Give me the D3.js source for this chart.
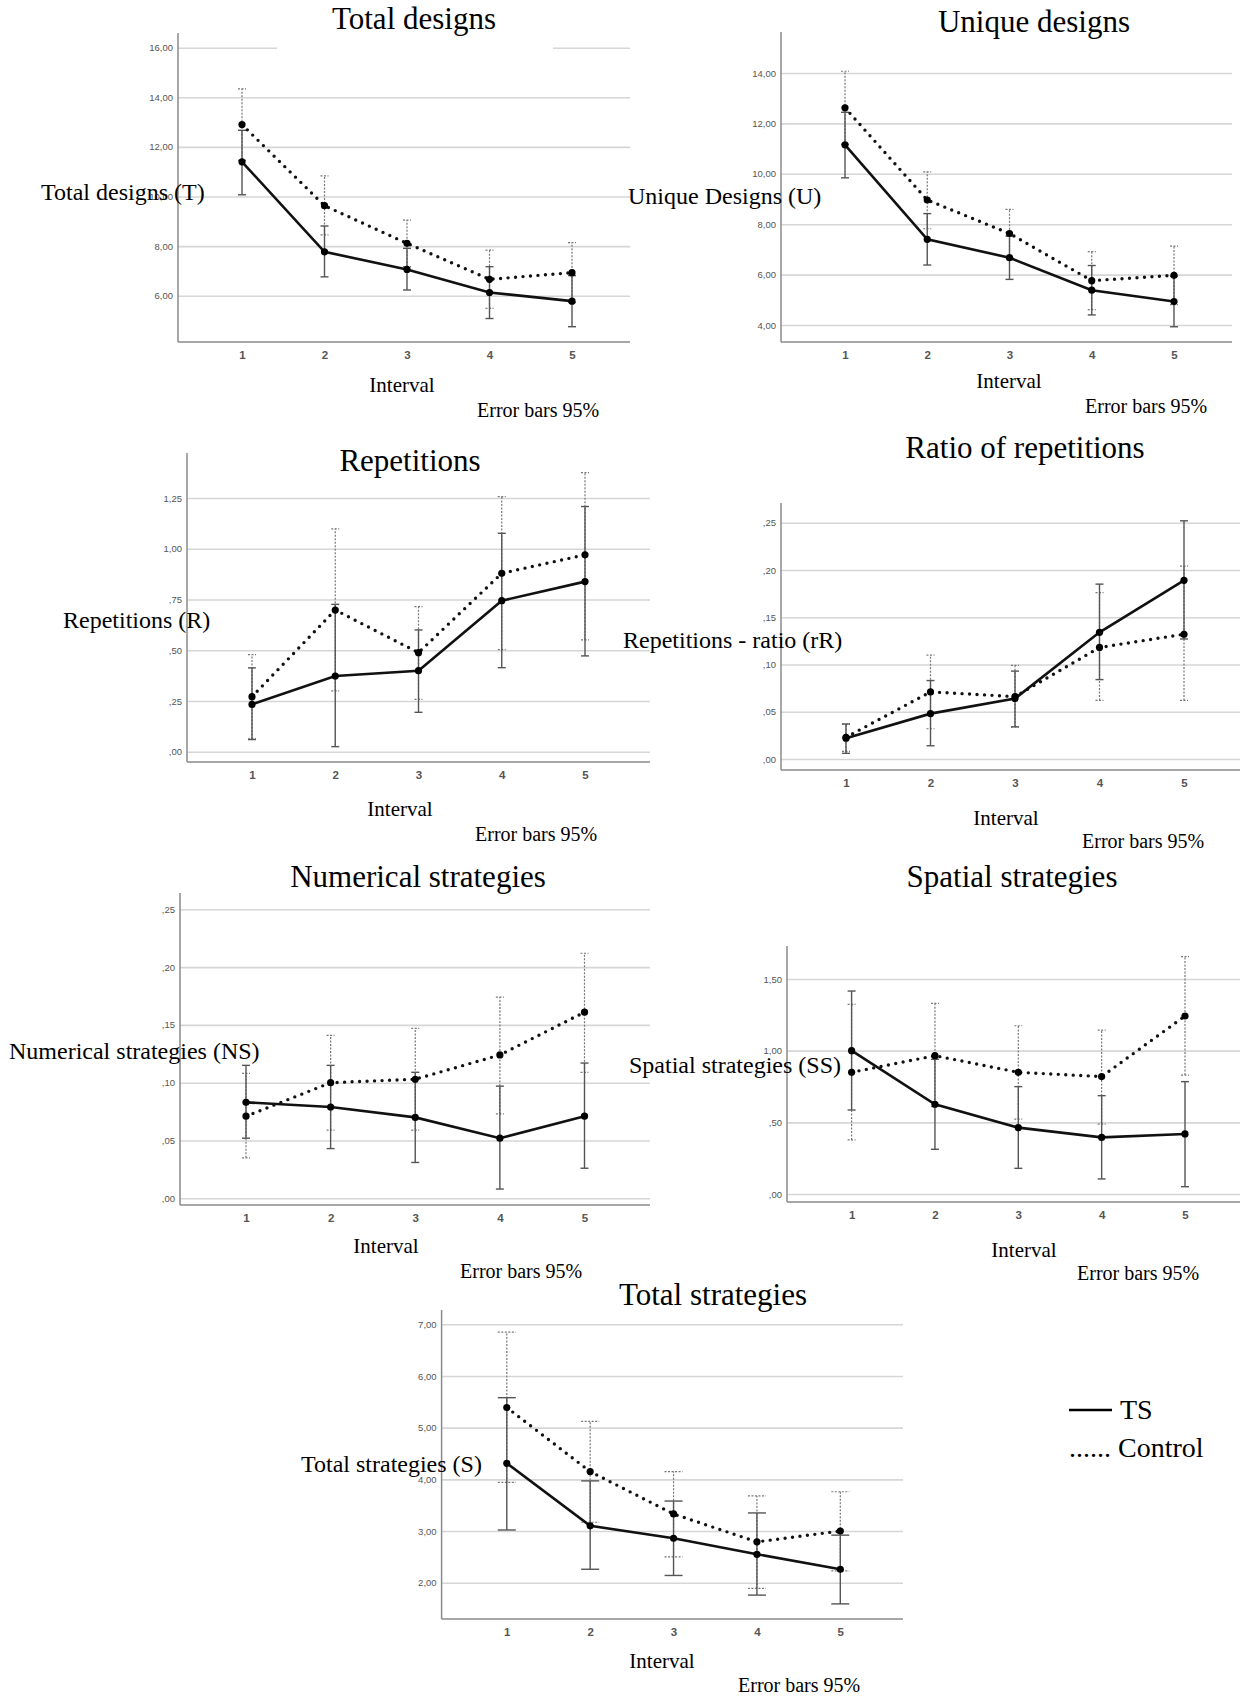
<!DOCTYPE html>
<html>
<head>
<meta charset="utf-8">
<title>Design measures by interval</title>
<script src="https://cdnjs.cloudflare.com/ajax/libs/d3/7.8.5/d3.min.js"></script>
<style>
  body { margin: 0; background: #fff; }
  svg { display: block; }
  .title, .ylab, .xlab, .note, .legend { font-family: "Liberation Serif", "Times New Roman", serif; fill: #000; }
  .title { font-size: 31px; }
  .ylab { font-size: 24px; }
  .xlab { font-size: 21px; }
  .note { font-size: 20px; }
  .legend { font-size: 28px; }
  .tick-y { font-family: "Liberation Sans", Arial, sans-serif; font-size: 9.5px; fill: #555; }
  .tick-x { font-family: "Liberation Sans", Arial, sans-serif; font-size: 11.5px; font-weight: bold; fill: #555; }
  .grid { stroke: #d6d6d6; stroke-width: 1.6; }
  .axis { stroke: #8a8a8a; stroke-width: 1.5; }
  .ts { fill: none; stroke: #111; stroke-width: 2.6; }
  .ctrl { fill: none; stroke: #111; stroke-width: 3.4; stroke-dasharray: 0 7.5; stroke-linecap: round; }
  .err-ts { stroke: #555; stroke-width: 1.4; }
  .err-ctrl { stroke: #777; stroke-width: 1.2; stroke-dasharray: 2 1.5; }
</style>
</head>
<body>
<script>
var intervals = [1, 2, 3, 4, 5];

// Total designs
var totalTS = [11.40, 7.77, 7.06, 6.13, 5.78];
var totalTSci = [[10.07, 12.67], [6.76, 8.81], [6.23, 7.91], [5.08, 7.17], [4.75, 6.81]];
var totalCtrl = [12.90, 9.63, 8.11, 6.66, 6.93];
var totalCtrlci = [[11.46, 14.34], [8.45, 10.83], [7.17, 9.05], [5.49, 7.84], [5.72, 8.14]];

// Unique designs
var uniqueTS = [11.15, 7.40, 6.67, 5.38, 4.93];
var uniqueTSci = [[9.84, 12.44], [6.38, 8.42], [5.81, 7.53], [4.40, 6.36], [3.93, 5.93]];
var uniqueCtrl = [12.62, 8.96, 7.63, 5.76, 5.97];
var uniqueCtrlci = [[11.17, 14.07], [7.82, 10.08], [6.67, 8.59], [4.61, 6.91], [4.81, 7.13]];

// Repetitions
var repTS = [0.233, 0.373, 0.399, 0.744, 0.838];
var repTSci = [[0.060, 0.413], [0.025, 0.726], [0.194, 0.600], [0.414, 1.076], [0.472, 1.208]];
var repCtrl = [0.271, 0.698, 0.488, 0.879, 0.970];
var repCtrlci = [[0.063, 0.478], [0.300, 1.098], [0.258, 0.715], [0.503, 1.257], [0.551, 1.375]];

// Ratio of repetitions
var ratioTS = [0.022, 0.048, 0.064, 0.134, 0.189];
var ratioTSci = [[0.006, 0.037], [0.014, 0.083], [0.034, 0.093], [0.084, 0.185], [0.127, 0.252]];
var ratioCtrl = [0.023, 0.071, 0.066, 0.118, 0.132];
var ratioCtrlci = [[0.008, 0.037], [0.032, 0.110], [0.034, 0.099], [0.062, 0.176], [0.062, 0.204]];

// Numerical strategies
var numTS = [0.083, 0.079, 0.070, 0.052, 0.071];
var numTSci = [[0.052, 0.115], [0.043, 0.115], [0.031, 0.109], [0.008, 0.097], [0.026, 0.117]];
var numCtrl = [0.071, 0.100, 0.103, 0.124, 0.161];
var numCtrlci = [[0.035, 0.108], [0.059, 0.141], [0.059, 0.147], [0.073, 0.174], [0.109, 0.212]];

// Spatial strategies
var spatTS = [1.00, 0.626, 0.463, 0.395, 0.419];
var spatTSci = [[0.586, 1.416], [0.312, 0.940], [0.179, 0.749], [0.105, 0.686], [0.051, 0.784]];
var spatCtrl = [0.849, 0.965, 0.849, 0.819, 1.242];
var spatCtrlci = [[0.377, 1.323], [0.609, 1.330], [0.523, 1.174], [0.488, 1.144], [0.830, 1.656]];

// Total strategies
var stratTS = [4.31, 3.10, 2.86, 2.55, 2.26];
var stratTSci = [[3.02, 5.58], [2.26, 3.97], [2.14, 3.58], [1.76, 3.35], [1.59, 2.92]];
var stratCtrl = [5.39, 4.15, 3.33, 2.79, 3.00];
var stratCtrlci = [[3.94, 6.85], [3.17, 5.12], [2.50, 4.15], [1.89, 3.68], [2.23, 3.76]];

var panels = [
  { title: "Total designs", ylab: "Total designs (T)", ticks: [6, 8, 10, 12, 14, 16],
    ts: totalTS, tsCI: totalTSci, ctrl: totalCtrl, ctrlCI: totalCtrlci,
    left: 178, right: 630, top: 33, bottom: 342, gy: [295.7, 47.7], pts: [242, 572],
    titleAt: [414, 29], ylabAt: [41, 200], xlabAt: [402, 392], noteAt: [477, 417], cap: 4,
    mask: [277, 553] },
  { title: "Unique designs", ylab: "Unique Designs (U)", ticks: [4, 6, 8, 10, 12, 14],
    ts: uniqueTS, tsCI: uniqueTSci, ctrl: uniqueCtrl, ctrlCI: uniqueCtrlci,
    left: 781, right: 1232, top: 32, bottom: 342, gy: [325, 73], pts: [845, 1174],
    titleAt: [1034, 32], ylabAt: [628, 204], xlabAt: [1009, 388], noteAt: [1085, 413], cap: 4 },
  { title: "Repetitions", ylab: "Repetitions (R)", ticks: [0, 0.25, 0.5, 0.75, 1, 1.25],
    ts: repTS, tsCI: repTSci, ctrl: repCtrl, ctrlCI: repCtrlci,
    left: 187, right: 650, top: 453, bottom: 762, gy: [751.7, 498], pts: [252, 585],
    titleAt: [410, 471], ylabAt: [63, 628], xlabAt: [400, 816], noteAt: [475, 841], cap: 4 },
  { title: "Ratio of repetitions", ylab: "Repetitions - ratio (rR)", ticks: [0, 0.05, 0.1, 0.15, 0.2, 0.25],
    ts: ratioTS, tsCI: ratioTSci, ctrl: ratioCtrl, ctrlCI: ratioCtrlci,
    left: 781, right: 1240, top: 503, bottom: 770, gy: [759, 522.7], pts: [846, 1184],
    titleAt: [1025, 458], ylabAt: [623, 648], xlabAt: [1006, 825], noteAt: [1082, 848], cap: 4 },
  { title: "Numerical strategies", ylab: "Numerical strategies (NS)", ticks: [0, 0.05, 0.1, 0.15, 0.2, 0.25],
    ts: numTS, tsCI: numTSci, ctrl: numCtrl, ctrlCI: numCtrlci,
    left: 180, right: 650, top: 893, bottom: 1205, gy: [1198.3, 909.3], pts: [246, 584.5],
    titleAt: [418, 887], ylabAt: [9, 1059], xlabAt: [386, 1253], noteAt: [460, 1278], cap: 4 },
  { title: "Spatial strategies", ylab: "Spatial strategies (SS)", ticks: [0, 0.5, 1, 1.5],
    ts: spatTS, tsCI: spatTSci, ctrl: spatCtrl, ctrlCI: spatCtrlci,
    left: 787, right: 1240, top: 946, bottom: 1202, gy: [1194, 979], pts: [851.6, 1185],
    titleAt: [1012, 887], ylabAt: [629, 1073], xlabAt: [1024, 1257], noteAt: [1077, 1280], cap: 4 },
  { title: "Total strategies", ylab: "Total strategies (S)", ticks: [2, 3, 4, 5, 6, 7],
    ts: stratTS, tsCI: stratTSci, ctrl: stratCtrl, ctrlCI: stratCtrlci,
    left: 441.6, right: 903, top: 1310, bottom: 1619, gy: [1582.7, 1324.3], pts: [506.8, 840.3],
    titleAt: [713, 1305], ylabAt: [301, 1472], xlabAt: [662, 1668], noteAt: [738, 1692], cap: 9 }
];

var svg = d3.select("body").append("svg")
  .attr("width", 1244)
  .attr("height", 1698);

// SPSS style: 2 decimals, comma, no leading zero
function fmt(d) {
  var s = d.toFixed(2).replace(".", ",");
  return s.indexOf("0,") === 0 ? s.slice(1) : s;
}

function errorBars(g, x, y, values, ci, cls, cap) {
  var eb = g.append("g");
  eb.selectAll("line.v").data(ci).enter().append("line")
    .attr("class", cls)
    .attr("x1", function(d, i) { return x(intervals[i]); })
    .attr("x2", function(d, i) { return x(intervals[i]); })
    .attr("y1", function(d) { return y(d[0]); })
    .attr("y2", function(d) { return y(d[1]); });
  [0, 1].forEach(function(k) {
    eb.selectAll("line.c" + k).data(ci).enter().append("line")
      .attr("class", cls)
      .attr("x1", function(d, i) { return x(intervals[i]) - cap; })
      .attr("x2", function(d, i) { return x(intervals[i]) + cap; })
      .attr("y1", function(d) { return y(d[k]); })
      .attr("y2", function(d) { return y(d[k]); });
  });
}

panels.forEach(function(p) {
  var g = svg.append("g");
  var x = d3.scalePoint().domain(intervals).range(p.pts);
  var y = d3.scaleLinear()
    .domain([p.ticks[0], p.ticks[p.ticks.length - 1]])
    .range(p.gy);

  // gridlines + y tick labels
  var ya = g.append("g")
    .attr("transform", "translate(" + p.left + ",0)")
    .call(d3.axisLeft(y).tickValues(p.ticks)
      .tickSize(-(p.right - p.left)).tickPadding(5).tickFormat(fmt));
  ya.select(".domain").remove();
  ya.selectAll("line").attr("class", "grid");
  ya.selectAll("text").attr("class", "tick-y");

  if (p.mask) {
    g.append("rect")
      .attr("x", p.mask[0]).attr("width", p.mask[1] - p.mask[0])
      .attr("y", y(p.ticks[p.ticks.length - 1]) - 4).attr("height", 8)
      .attr("fill", "#fff");
  }

  // x tick labels
  var xa = g.append("g")
    .attr("transform", "translate(0," + p.bottom + ")")
    .call(d3.axisBottom(x).tickSize(0).tickPadding(9));
  xa.select(".domain").remove();
  xa.selectAll("text").attr("class", "tick-x");

  // axis lines
  g.append("line").attr("class", "axis")
    .attr("x1", p.left).attr("x2", p.left).attr("y1", p.top).attr("y2", p.bottom);
  g.append("line").attr("class", "axis")
    .attr("x1", p.left).attr("x2", p.right).attr("y1", p.bottom).attr("y2", p.bottom);

  errorBars(g, x, y, p.ctrl, p.ctrlCI, "err-ctrl", p.cap);
  errorBars(g, x, y, p.ts, p.tsCI, "err-ts", p.cap);

  var line = d3.line()
    .x(function(d, i) { return x(intervals[i]); })
    .y(function(d) { return y(d); });

  g.append("path").datum(p.ctrl).attr("class", "ctrl").attr("d", line);
  g.append("path").datum(p.ts).attr("class", "ts").attr("d", line);

  [p.ctrl, p.ts].forEach(function(series) {
    g.selectAll(null).data(series).enter().append("circle")
      .attr("cx", function(d, i) { return x(intervals[i]); })
      .attr("cy", function(d) { return y(d); })
      .attr("r", 3.6)
      .attr("fill", "#000");
  });

  g.append("text").attr("class", "title")
    .attr("x", p.titleAt[0]).attr("y", p.titleAt[1])
    .attr("text-anchor", "middle").text(p.title);
  g.append("text").attr("class", "ylab")
    .attr("x", p.ylabAt[0]).attr("y", p.ylabAt[1]).text(p.ylab);
  g.append("text").attr("class", "xlab")
    .attr("x", p.xlabAt[0]).attr("y", p.xlabAt[1])
    .attr("text-anchor", "middle").text("Interval");
  g.append("text").attr("class", "note")
    .attr("x", p.noteAt[0]).attr("y", p.noteAt[1]).text("Error bars 95%");
});

// legend
var legend = svg.append("g");
legend.append("line")
  .attr("x1", 1069).attr("x2", 1112).attr("y1", 1410).attr("y2", 1410)
  .attr("stroke", "#000").attr("stroke-width", 2.5);
legend.append("text").attr("class", "legend").attr("x", 1120).attr("y", 1419).text("TS");
legend.append("text").attr("class", "legend").attr("x", 1069).attr("y", 1457).text("...... Control");
</script>
</body>
</html>
